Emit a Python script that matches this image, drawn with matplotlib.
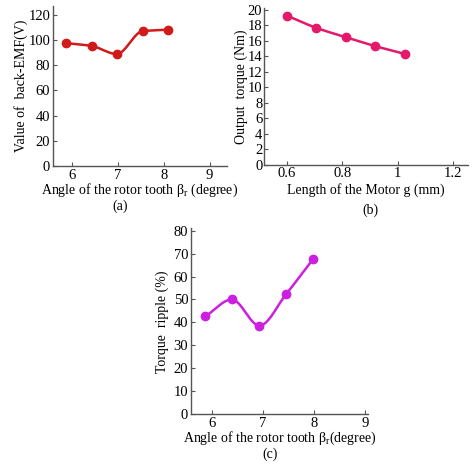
import numpy as np
import matplotlib
matplotlib.use("Agg")
import matplotlib.pyplot as plt

plt.rcParams['font.family'] = ['Liberation Serif', 'DejaVu Serif']
plt.rcParams['mathtext.fontset'] = 'custom'
plt.rcParams['mathtext.rm'] = 'Liberation Serif'

# ---- data ----
angle_a = [5.88, 6.43, 6.98, 7.54, 8.09]
emf_a = [97.5, 95.3, 88.9, 107.0, 108.2]

gap_b = [0.6, 0.706, 0.813, 0.92, 1.028]
torque_b = [19.27, 17.68, 16.47, 15.31, 14.29]

angle_c = [5.87, 6.39, 6.93, 7.46, 7.99]
ripple_c = [42.6, 50.0, 38.6, 52.5, 67.8]

xticks_a = [6, 7, 8, 9]
yticks_a = [0, 20, 40, 60, 80, 100, 120]
xticks_b = [0.6, 0.8, 1.0, 1.2]
xticklabels_b = ['0.6', '0.8', '1', '1.2']
yticks_b = list(range(0, 21, 2))
xticks_c = [6, 7, 8, 9]
yticks_c = list(range(0, 81, 10))


def pchip(x, y, n=200):
    x = np.asarray(x, float); y = np.asarray(y, float)
    h = np.diff(x); d = np.diff(y) / h
    m = np.zeros_like(y)
    for k in range(1, len(x) - 1):
        if d[k - 1] * d[k] <= 0:
            m[k] = 0.0
        else:
            w1 = 2 * h[k] + h[k - 1]; w2 = h[k] + 2 * h[k - 1]
            m[k] = (w1 + w2) / (w1 / d[k - 1] + w2 / d[k])
    m[0] = d[0]; m[-1] = d[-1]
    xs = np.linspace(x[0], x[-1], n)
    idx = np.clip(np.searchsorted(x, xs) - 1, 0, len(x) - 2)
    t = (xs - x[idx]) / h[idx]
    h00 = 2 * t**3 - 3 * t**2 + 1; h10 = t**3 - 2 * t**2 + t
    h01 = -2 * t**3 + 3 * t**2; h11 = t**3 - t**2
    ys = h00 * y[idx] + h10 * h[idx] * m[idx] + h01 * y[idx + 1] + h11 * h[idx] * m[idx + 1]
    return xs, ys


W, H = 472, 468
fig = plt.figure(figsize=(W / 100, H / 100), dpi=100)


def px_axes(l, r, b, t):
    return fig.add_axes([l / W, 1 - b / H, (r - l) / W, (b - t) / H])


def style(ax):
    for s in ['top', 'right']:
        ax.spines[s].set_visible(False)
    for s in ['left', 'bottom']:
        ax.spines[s].set_color('#555555')
        ax.spines[s].set_linewidth(1.0)
    ax.tick_params(direction='in', length=3, width=0.8, color='#555555',
                   labelsize=10.5, pad=2)


fs = 10

# (a)
ax1 = px_axes(53, 227, 166, 6)
xs, ys = pchip(angle_a, emf_a)
ax1.plot(xs, ys, color='#d11a1a', lw=1.8)
ax1.plot(angle_a, emf_a, 'o', color='#d11a1a', ms=6)
ax1.set_xlim(5.59, 9.38)
ax1.set_ylim(0, 127)
ax1.set_xticks(xticks_a)
ax1.set_yticks(yticks_a)
style(ax1)
ax1.set_xlabel('Angle of the rotor tooth β$_\\mathrm{r}$ (degree)', fontsize=fs, labelpad=0)
ax1.set_ylabel('Value of  back-EMF(V)', fontsize=fs, labelpad=0)
fig.text(120 / W, 1 - 206 / H, '(a)', ha='center', va='center', fontsize=fs)

# (b)
ax2 = px_axes(263.7, 468, 164.7, 8.3)
xs, ys = pchip(gap_b, torque_b)
ax2.plot(xs, ys, color='#e5196a', lw=1.8)
ax2.plot(gap_b, torque_b, 'o', color='#e5196a', ms=6)
ax2.set_xlim(0.517, 1.254)
ax2.set_ylim(0, 20.2)
ax2.set_xticks(xticks_b)
ax2.set_xticklabels(xticklabels_b)
ax2.set_yticks(yticks_b)
style(ax2)
ax2.tick_params(axis='y', pad=1)
ax2.set_xlabel('Length of the Motor g (mm)', fontsize=fs, labelpad=2)
ax2.set_ylabel('Output  torque (Nm)', fontsize=fs, labelpad=0)
fig.text(370 / W, 1 - 210 / H, '(b)', ha='center', va='center', fontsize=fs)

# (c)
ax3 = px_axes(191, 368, 414.3, 228.3)
xs, ys = pchip(angle_c, ripple_c)
ax3.plot(xs, ys, color='#cc1fe0', lw=1.8)
ax3.plot(angle_c, ripple_c, 'o', color='#cc1fe0', ms=6)
ax3.set_xlim(5.588, 9.06)
ax3.set_ylim(0, 81)
ax3.set_xticks(xticks_c)
ax3.set_yticks(yticks_c)
style(ax3)
ax3.set_xlabel('Angle of the rotor tooth β$_\\mathrm{r}$(degree)', fontsize=fs, labelpad=0)
ax3.set_ylabel('Torque  ripple (%)', fontsize=fs, labelpad=3)
fig.text(270 / W, 1 - 454 / H, '(c)', ha='center', va='center', fontsize=fs)

fig.savefig('out.png', dpi=100)
